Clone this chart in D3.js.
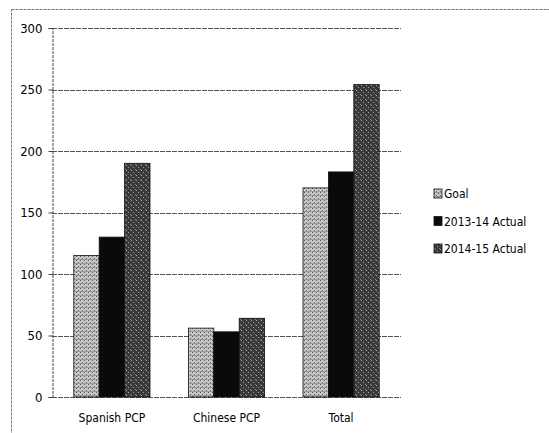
<!DOCTYPE html>
<html>
<head>
<meta charset="utf-8">
<script src="https://cdn.jsdelivr.net/npm/d3@7"></script>
<style>
  body { margin: 0; background: #fff; }
  text { font-family: "DejaVu Sans Condensed", "Liberation Sans Narrow", sans-serif; font-size: 12px; fill: #000; }
</style>
</head>
<body>
<svg id="chart" width="549" height="433"></svg>
<script>
var categories = ["Spanish PCP", "Chinese PCP", "Total"];
var seriesNames = ["Goal", "2013-14 Actual", "2014-15 Actual"];
var goal = [115, 56, 170];
var actual1314 = [130, 53, 183];
var actual1415 = [190, 64, 254];
var yTicks = [0, 50, 100, 150, 200, 250, 300];

var series = [goal, actual1314, actual1415];

var svg = d3.select("#chart"),
    MARGINS = { top: 28, right: 148, bottom: 36, left: 52 },
    WIDTH = 549,
    HEIGHT = 433;

// textures that mimic the scanned fills
var defs = svg.append("defs");
var p0 = defs.append("pattern").attr("id", "pat0").attr("width", 4).attr("height", 4).attr("patternUnits", "userSpaceOnUse");
p0.append("rect").attr("width", 4).attr("height", 4).attr("fill", "#c8c8c8");
p0.append("rect").attr("x", 0).attr("y", 0).attr("width", 1).attr("height", 1).attr("fill", "#555");
p0.append("rect").attr("x", 2).attr("y", 2).attr("width", 1).attr("height", 1).attr("fill", "#666");
p0.append("rect").attr("x", 0).attr("y", 3).attr("width", 4).attr("height", 1).attr("fill", "#9a9a9a");
var p1 = defs.append("pattern").attr("id", "pat1").attr("width", 4).attr("height", 4).attr("patternUnits", "userSpaceOnUse");
p1.append("rect").attr("width", 4).attr("height", 4).attr("fill", "#0a0a0a");
var p2 = defs.append("pattern").attr("id", "pat2").attr("width", 5).attr("height", 5).attr("patternUnits", "userSpaceOnUse");
p2.append("rect").attr("width", 5).attr("height", 5).attr("fill", "#3a3a3a");
p2.append("rect").attr("x", 1).attr("y", 0).attr("width", 1).attr("height", 1).attr("fill", "#aaa");
p2.append("rect").attr("x", 3).attr("y", 2).attr("width", 1).attr("height", 1).attr("fill", "#999");
p2.append("rect").attr("x", 0).attr("y", 4).attr("width", 1).attr("height", 1).attr("fill", "#888");
var fills = ["url(#pat0)", "url(#pat1)", "url(#pat2)"];

// outer frame
svg.append("rect")
    .attr("x", 11.5).attr("y", 9.5)
    .attr("width", 545).attr("height", 440)
    .attr("fill", "none")
    .attr("stroke", "#777")
    .attr("stroke-dasharray", "3,1");

var xScale = d3.scaleBand().domain(categories)
    .range([MARGINS.left, WIDTH - MARGINS.right])
    .paddingInner(0.335).paddingOuter(0.19);
var xInner = d3.scaleBand().domain(d3.range(series.length))
    .range([0, xScale.bandwidth()]);
var yScale = d3.scaleLinear().domain([0, 300])
    .range([HEIGHT - MARGINS.bottom, MARGINS.top]);

// gridlines
svg.append("g").selectAll("line").data(yTicks).join("line")
    .attr("x1", MARGINS.left).attr("x2", WIDTH - MARGINS.right)
    .attr("y1", function (d) { return Math.round(yScale(d)) + 0.5; })
    .attr("y2", function (d) { return Math.round(yScale(d)) + 0.5; })
    .attr("stroke", "#555")
    .attr("stroke-dasharray", "5,1");

// y axis
var yAxis = d3.axisLeft(yScale).tickValues(yTicks).tickSize(4).tickPadding(6);
var gy = svg.append("g")
    .attr("transform", "translate(" + (MARGINS.left + 0.5) + ",0)")
    .call(yAxis);
gy.select(".domain").attr("stroke", "#444").attr("stroke-dasharray", "3,1");
gy.selectAll(".tick line").attr("stroke", "#444");
gy.selectAll("text").style("font-size", "13px");

// x axis
var xAxis = d3.axisBottom(xScale).tickSize(0).tickPadding(16);
var gx = svg.append("g")
    .attr("transform", "translate(0," + (HEIGHT - MARGINS.bottom + 0.5) + ")")
    .call(xAxis);
gx.select(".domain").remove();
gx.selectAll("text").style("font-size", "12px");

// bars
series.forEach(function (vals, si) {
  svg.append("g").selectAll("rect").data(vals).join("rect")
      .attr("x", function (d, i) { return xScale(categories[i]) + xInner(si); })
      .attr("y", function (d) { return yScale(d); })
      .attr("width", xInner.bandwidth())
      .attr("height", function (d) { return yScale(0) - yScale(d); })
      .attr("fill", fills[si])
      .attr("stroke", "#111")
      .attr("stroke-width", 0.8);
});

// legend
var legend = svg.append("g").selectAll("g").data(seriesNames).join("g")
    .attr("transform", function (d, i) { return "translate(434," + (189 + i * 27.5) + ")"; });
legend.append("rect")
    .attr("width", 8).attr("height", 9)
    .attr("fill", function (d, i) { return fills[i]; })
    .attr("stroke", "#111").attr("stroke-width", 0.8);
legend.append("text")
    .attr("x", 10).attr("y", 9)
    .style("font-size", "12px")
    .text(function (d) { return d; });
</script>
</body>
</html>
